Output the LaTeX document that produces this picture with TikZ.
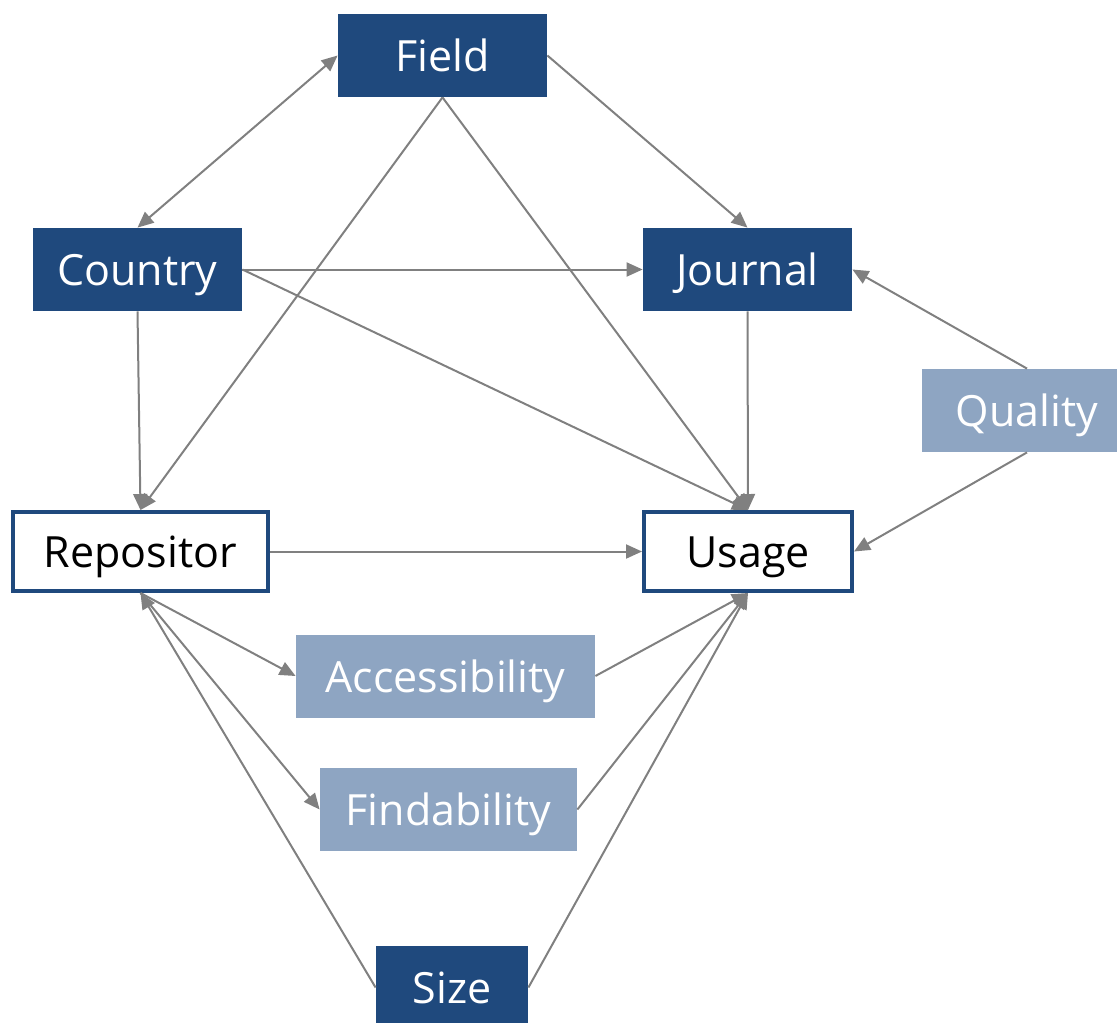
\documentclass[tikz,border=0pt]{standalone}
\usepackage{fontspec}
\setmainfont{Open Sans}
\usetikzlibrary{arrows.meta}

\definecolor{darkbox}{HTML}{1F497D}
\definecolor{lightbox}{HTML}{8EA5C2}
\definecolor{linkgrey}{HTML}{808080}

\tikzset{
  box/.style={minimum height=41.5pt, inner sep=0pt, text height=16pt, text depth=0pt,
    font=\fontsize{21.5}{26}\selectfont},
  dark/.style={box, fill=darkbox, text=white},
  light/.style={box, fill=lightbox, text=white},
  outcome/.style={box, minimum height=39.5pt, draw=darkbox, line width=2pt, fill=white, text=black},
  link/.style={draw=linkgrey, line width=1pt, -{Triangle[length=8pt,width=7pt]}}
}

\begin{document}
\begin{tikzpicture}[x=0.5pt,y=-0.5pt]
\useasboundingbox (0,0) rectangle (1117,1022);

% Background variables
\node[dark, minimum width=104.5pt] (field) at (442.5,55.5) {Field};
\node[dark, minimum width=104.5pt] (country) at (137.5,269.5) {Country};
\node[dark, minimum width=104.5pt] (journal) at (747.5,269.5) {Journal};
\node[dark, minimum width=76pt] (size) at (452,987.5) {Size};

% Mediating variables
\node[light, minimum width=105pt] (quality) at (1027,410.5) {Quality};
\node[light, minimum width=149.5pt] (access) at (445.5,676) {Accessibility};
\node[light, minimum width=128.5pt] (find) at (448.5,809.5) {Findability};

% Repository and outcome
\node[outcome, minimum width=127.5pt] (repositor) at (140.5,551.5) {Repositor};
\node[outcome, minimum width=104pt] (usage) at (748,551.5) {Usage};

% Field and country go both ways
\draw[link, {Triangle[length=8pt,width=7pt]}-{Triangle[length=8pt,width=7pt]}] (field.west) -- (country.north);

% Direct effects
\foreach \a/\b in {field.east/journal.north, field.south/repositor.north,
    field.south/usage.north, country.east/journal.west, country.east/usage.north,
    country.south/repositor.north, journal.south/usage.north,
    quality.north/journal.east, quality.south/usage.east,
    repositor.east/usage.west, size.west/repositor.south, size.east/usage.south}
  \draw[link] (\a) -- (\b);

% Paths through accessibility and findability
\foreach \m in {access,find} {
  \draw[link] (repositor.south) -- (\m.west);
  \draw[link] (\m.east) -- (usage.south);
}

\end{tikzpicture}
\end{document}
